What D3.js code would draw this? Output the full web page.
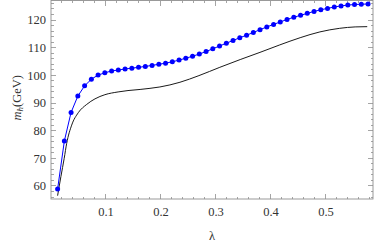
<!DOCTYPE html>
<html lang="en">
<head>
<meta charset="utf-8">
<title></title>
<style>
  body { margin: 0; background: #fff; }
  svg { display: block; }
</style>
</head>
<body>
<svg width="374" height="243"></svg>
<script src="https://cdn.jsdelivr.net/npm/d3@7"></script>
<script>

// blue series (dots)
const lambdaPts = [0.0120, 0.0243, 0.0365, 0.0488, 0.0611, 0.0734, 0.0856, 0.0979, 0.1102, 0.1224,
                   0.1347, 0.1470, 0.1592, 0.1715, 0.1838, 0.1961, 0.2083, 0.2206, 0.2329, 0.2451,
                   0.2574, 0.2697, 0.2820, 0.2942, 0.3065, 0.3188, 0.3310, 0.3433, 0.3556, 0.3679,
                   0.3801, 0.3924, 0.4047, 0.4169, 0.4292, 0.4415, 0.4538, 0.4660, 0.4783, 0.4906,
                   0.5028, 0.5151, 0.5274, 0.5397, 0.5519, 0.5642, 0.5765]
const mhPts = [58.9, 76.3, 86.6, 92.5, 96.2, 98.6, 100.1, 100.9, 101.6, 101.9,
               102.3, 102.6, 102.9, 103.2, 103.6, 104.0, 104.4, 104.9, 105.5, 106.2,
               106.9, 107.7, 108.6, 109.6, 110.6, 111.6, 112.6, 113.6, 114.5, 115.5,
               116.5, 117.5, 118.4, 119.3, 120.2, 121.0, 121.7, 122.4, 123.1, 123.7,
               124.2, 124.7, 125.1, 125.4, 125.6, 125.7, 125.8]

// black curve
const lambdaLine = [0.012, 0.018, 0.024, 0.0285, 0.0376, 0.0496, 0.065, 0.080, 0.098, 0.122,
                    0.140, 0.162, 0.180, 0.198, 0.2345, 0.269, 0.307, 0.344, 0.380, 0.416,
                    0.453, 0.489, 0.525, 0.553, 0.575]
const mhLine = [56.5, 63.4, 70.0, 75.4, 82.0, 86.5, 89.5, 91.5, 93.0, 94.0,
                94.5, 94.9, 95.3, 95.8, 97.5, 99.9, 102.9, 105.7, 108.3, 111.0,
                113.6, 115.7, 117.0, 117.5, 117.6]

const xTicks = [0.1, 0.2, 0.3, 0.4, 0.5]
const yTicks = [60, 70, 80, 90, 100, 110, 120]

const margin = {top: 0.5, right: 1, bottom: 44, left: 51},
      width = 374, height = 243,
      svg = d3.select("svg")

const x = d3.scaleLinear().domain([0, 0.5855]).range([margin.left, width - margin.right]),
      y = d3.scaleLinear().domain([55.3, 127.05]).range([height - margin.bottom, margin.top])

const frameColor = "#8f8f8f",
      serif = "'Liberation Serif', 'DejaVu Serif', serif"

const x0 = x.range()[0], x1 = x.range()[1],
      y0 = y.range()[0], y1 = y.range()[1]

// ticks, drawn inward on all four sides
const xMinor = d3.range(0.02, 0.585, 0.02).filter(v => Math.abs(v * 10 - Math.round(v * 10)) > 1e-6)
const yMinor = d3.range(56, 127, 2).filter(v => v % 10 != 0)

const ticks = svg.append("g")
  .attr("stroke", frameColor)
  .attr("stroke-width", 0.8)
  .style("shape-rendering", "crispEdges")

xTicks.forEach(v => {
  ticks.append("line").attr("x1", x(v)).attr("x2", x(v)).attr("y1", y0).attr("y2", y0 - 5)
  ticks.append("line").attr("x1", x(v)).attr("x2", x(v)).attr("y1", y1).attr("y2", y1 + 5)
})
xMinor.forEach(v => {
  ticks.append("line").attr("x1", x(v)).attr("x2", x(v)).attr("y1", y0).attr("y2", y0 - 2.5)
  ticks.append("line").attr("x1", x(v)).attr("x2", x(v)).attr("y1", y1).attr("y2", y1 + 2.5)
})
yTicks.forEach(v => {
  ticks.append("line").attr("x1", x0).attr("x2", x0 + 5).attr("y1", y(v)).attr("y2", y(v))
  ticks.append("line").attr("x1", x1).attr("x2", x1 - 5).attr("y1", y(v)).attr("y2", y(v))
})
yMinor.forEach(v => {
  ticks.append("line").attr("x1", x0).attr("x2", x0 + 2.5).attr("y1", y(v)).attr("y2", y(v))
  ticks.append("line").attr("x1", x1).attr("x2", x1 - 2.5).attr("y1", y(v)).attr("y2", y(v))
})

svg.append("rect")
  .attr("x", x0).attr("y", y1)
  .attr("width", x1 - x0).attr("height", y0 - y1)
  .attr("fill", "none")
  .attr("stroke", frameColor)
  .attr("stroke-width", 0.9)

// tick labels
svg.append("g").selectAll("text")
  .data(xTicks)
  .enter().append("text")
    .attr("x", d => x(d))
    .attr("y", y0 + 16.5)
    .attr("text-anchor", "middle")
    .style("font-family", serif)
    .style("font-size", "12.5px")
    .style("fill", "#333")
    .text(d => d3.format(".1f")(d))

svg.append("g").selectAll("text")
  .data(yTicks)
  .enter().append("text")
    .attr("x", x0 - 5)
    .attr("y", d => y(d))
    .attr("text-anchor", "end")
    .attr("dy", "0.35em")
    .style("font-family", serif)
    .style("font-size", "12.5px")
    .style("fill", "#333")
    .text(d => d)

// axis titles
svg.append("text")
  .attr("x", (x0 + x1) / 2)
  .attr("y", 240)
  .attr("text-anchor", "middle")
  .style("font-family", serif)
  .style("font-size", "12.5px")
  .style("fill", "#333")
  .text("λ")

const ylab = svg.append("text")
  .attr("transform", `translate(20.5,${(y0 + y1) / 2 - 2}) rotate(-90)`)
  .attr("text-anchor", "middle")
  .style("font-family", serif)
  .style("font-size", "12.5px")
  .style("fill", "#333")
ylab.append("tspan").style("font-style", "italic").text("m")
ylab.append("tspan").style("font-style", "italic").style("font-size", "9px").attr("dy", 2.5).text("h")
ylab.append("tspan").attr("dy", -2.5).text("(GeV)")

// black curve
const lineData = lambdaLine.map((l, i) => [l, mhLine[i]])
svg.append("path")
  .datum(lineData)
  .attr("fill", "none")
  .attr("stroke", "#1a1a1a")
  .attr("stroke-width", 1)
  .attr("d", d3.line().x(d => x(d[0])).y(d => y(d[1])).curve(d3.curveMonotoneX))

// blue points joined by line
const ptData = lambdaPts.map((l, i) => [l, mhPts[i]])
svg.append("path")
  .datum(ptData)
  .attr("fill", "none")
  .attr("stroke", "#0000ff")
  .attr("stroke-width", 1)
  .attr("d", d3.line().x(d => x(d[0])).y(d => y(d[1])))

svg.append("g").selectAll("circle")
  .data(ptData)
  .enter().append("circle")
    .attr("cx", d => x(d[0]))
    .attr("cy", d => y(d[1]))
    .attr("r", 2.5)
    .attr("fill", "#0000ff")

</script>
</body>
</html>
